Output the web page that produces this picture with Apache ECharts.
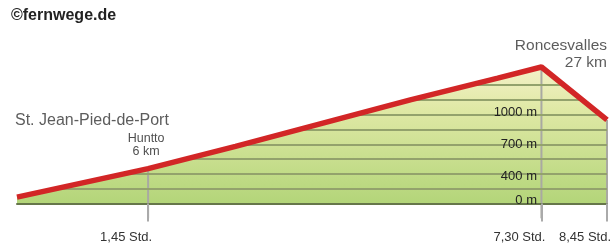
<!DOCTYPE html>
<html>
<head>
<meta charset="utf-8" />
<title>Höhenprofil St. Jean-Pied-de-Port – Roncesvalles</title>
<style>html,body{margin:0;padding:0;background:#fff}#chart{width:614px;height:246px}</style>
<script src="https://cdn.jsdelivr.net/npm/echarts@6.0.0/dist/echarts.min.js"></script>
</head>
<body>
<div id="chart"></div>
<script>
const distKm = [0, 6, 10, 14, 18, 22, 24, 27];
const elevM = [200, 470, 680, 900, 1120, 1325, 1430, 930];

// Orte
const placeNames = ['St. Jean-Pied-de-Port', 'Huntto', 'Roncesvalles'];
const placeKm = [0, 6, 27];

// Gehzeiten an der x-Achse
const timeKm = [6, 24, 27];
const timeLabels = ['1,45 Std.', '7,30 Std.', '8,45 Std.'];

// Höhenbeschriftung
const elevTicks = [0, 400, 700, 1000];

const Y_MIN = 140, Y_STEP = 140, Y_MAX = 1260;
const FONT = '"Liberation Sans", Arial, sans-serif';

const elevAt = (km) => elevM[distKm.indexOf(km)];
const peak = Math.max(...elevM);
const profile = distKm.map((k, i) => [k, elevM[i]]);
// a label below the baseline goes into the lowest band
const tickPos = elevTicks.map((v) => Math.max(v, Y_MIN + Y_STEP * 0.2));

const placeLabel = [
  { align: 'left', fontSize: 16, lineHeight: 18, offset: [-2, -77], color: '#333' },
  { align: 'center', fontSize: 12.5, lineHeight: 13, offset: [-2, -24], color: '#222' },
  { align: 'right', fontSize: 15.5, lineHeight: 17, offset: [0, -66], color: '#333' },
];
const places = placeKm.map((k, i) => ({
  value: [k, elevAt(k)],
  name: placeNames[i],
  label: placeLabel[i],
}));

const chart = echarts.init(document.getElementById('chart'), null, { renderer: 'canvas' });
chart.setOption({
  animation: false,
  backgroundColor: '#fff',
  title: {
    text: '©fernwege.de',
    left: 11, top: 8, padding: 0,
    textStyle: { fontFamily: FONT, fontSize: 16, fontWeight: 'bold', color: '#222' },
  },
  grid: { left: 17, right: 7, top: 85, bottom: 42.5, containLabel: false, outerBoundsMode: 'none' },
  xAxis: {
    type: 'value', min: 0, max: 27, z: 3,
    splitLine: { show: false },
    axisLine: { lineStyle: { color: '#66764a', width: 2 } },
    axisTick: { show: true, customValues: timeKm, length: 18, lineStyle: { color: '#aaaaaa', width: 2 } },
    axisLabel: {
      customValues: timeKm,
      formatter: (v) => timeLabels[timeKm.indexOf(v)] || '',
      margin: 27, align: 'right', padding: [0, -4, 0, 0],
      fontSize: 13, color: '#333', fontFamily: FONT,
    },
  },
  yAxis: {
    type: 'value', position: 'right', min: Y_MIN, max: Y_MAX, interval: Y_STEP, z: 3,
    axisLine: { show: false },
    axisTick: { show: false },
    splitLine: { show: true, lineStyle: { color: '#93a26c', width: 2 } },
    axisLabel: {
      inside: true, margin: 70,
      customValues: tickPos,
      formatter: (v) => {
        const i = tickPos.indexOf(v);
        return i >= 0 ? elevTicks[i] + ' m' : '';
      },
      padding: [0, 0, 9, 0],
      fontSize: 13, color: '#222', fontFamily: FONT,
    },
  },
  series: [
    {
      // green profile, filled down to the baseline
      type: 'line', data: profile, z: 2, clip: false, silent: true,
      symbol: 'none', lineStyle: { width: 0 },
      areaStyle: {
        origin: 'start', opacity: 1,
        color: new echarts.graphic.LinearGradient(0, 0, 0, 1, [
          { offset: 0, color: '#f4f1c8' },
          { offset: 0.3, color: '#e0e9a6' },
          { offset: 1, color: '#b3d579' },
        ]),
      },
    },
    {
      // grey time markers from the profile down
      type: 'bar', data: timeKm.map((k) => [k, elevAt(k)]), z: 2, clip: false, silent: true,
      barWidth: 2, itemStyle: { color: '#a9a9a2' },
    },
    {
      // white cover above the profile hides the grid lines there
      type: 'line', data: profile, z: 4, clip: false, silent: true,
      symbol: 'none', lineStyle: { width: 0 },
      areaStyle: { origin: peak, color: '#ffffff', opacity: 1 },
    },
    {
      type: 'line', data: profile, z: 5, clip: false, silent: true,
      symbol: 'none', lineStyle: { color: '#d22626', width: 5.5 },
    },
    {
      type: 'scatter', data: places, z: 10, clip: false, silent: true,
      symbolSize: 0,
      label: {
        show: true, position: 'inside', verticalAlign: 'middle', fontFamily: FONT,
        formatter: (p) => p.dataIndex === 0 ? p.name : p.name + '\n' + p.value[0] + ' km',
      },
    },
  ],
});
</script>
</body>
</html>
